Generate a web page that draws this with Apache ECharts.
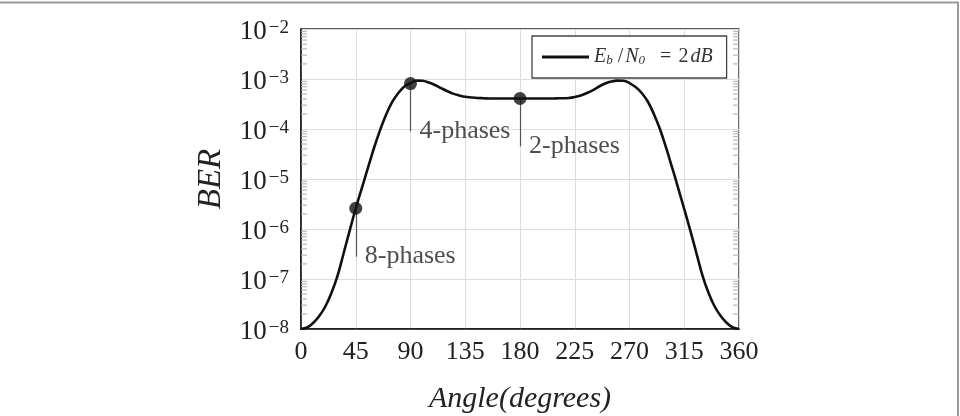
<!DOCTYPE html>
<html><head><meta charset="utf-8">
<script src="https://cdn.jsdelivr.net/npm/echarts@6/dist/echarts.min.js"></script>
<style>html,body{margin:0;padding:0;background:#fff}#c{width:960px;height:416px}</style>
</head><body><div id="c"></div>
<script>
// ---- data ----
const angles = [0,5,10,15,20,25,30,35,40,45,50,55,60,65,70,75,80,85,90,95,100,105,110,115,120,125,130,135,140,145,150,155,160,165,170,175,180,185,190,195,200,205,210,215,220,225,230,235,240,245,250,255,260,265,270,275,280,285,290,295,300,305,310,315,320,325,330,335,340,345,350,355,360];
const ber = [1.0e-8,1.07e-8,1.32e-8,1.82e-8,2.82e-8,5.25e-8,1.15e-7,3.24e-7,9.3e-7,2.57e-6,6.6e-6,1.66e-5,4.17e-5,9.5e-5,1.95e-4,3.47e-4,5.25e-4,7.08e-4,8.3e-4,9.3e-4,9.2e-4,8.5e-4,7.6e-4,6.6e-4,5.75e-4,5.1e-4,4.7e-4,4.4e-4,4.27e-4,4.17e-4,4.12e-4,4.07e-4,4.07e-4,4.07e-4,4.07e-4,4.07e-4,4.07e-4,4.07e-4,4.07e-4,4.07e-4,4.07e-4,4.07e-4,4.1e-4,4.12e-4,4.17e-4,4.37e-4,4.7e-4,5.25e-4,6.0e-4,7.08e-4,8.1e-4,8.9e-4,9.3e-4,9.2e-4,8.3e-4,6.9e-4,5.25e-4,3.55e-4,2.0e-4,1.0e-4,4.27e-5,1.7e-5,6.6e-6,2.5e-6,9.3e-7,3.3e-7,1.17e-7,5.25e-8,2.82e-8,1.82e-8,1.32e-8,1.07e-8,1.0e-8];
const markAngles = [45, 90, 180];
const markBer = [2.6e-6, 8.1e-4, 4.07e-4];
const markEndBer = [2.8e-7, 8.9e-5, 4.5e-5];
const markLabels = ['8-phases', '4-phases', '2-phases'];
const minorMantissas = [2,3,4,5,6,7,8,9];
const decadeExponents = [-8,-7,-6,-5,-4,-3];
const seriesName = 'Eb/N0 = 2dB';

// ---- chart ----
const serif = 'Liberation Serif';
const minorTickVals = [];
decadeExponents.forEach(e => minorMantissas.forEach(m => minorTickVals.push([0, m * Math.pow(10, e)])));

const chart = echarts.init(document.getElementById('c'), null, {renderer: 'canvas'});
chart.setOption({
  animation: false,
  backgroundColor: '#fff',
  graphic: [{
    type: 'rect', silent: true, z: -10,
    shape: {x: -5, y: 2.5, width: 963, height: 430},
    style: {fill: 'none', stroke: '#9a9a9a', lineWidth: 2}
  }],
  grid: {left: 301, right: 221, top: 29, bottom: 87, show: true, borderColor: '#222', borderWidth: 1.3,
    backgroundColor: 'transparent', containLabel: false, outerBoundsMode: 'none'},
  legend: {
    data: [{name: seriesName, icon: 'rect'}],
    left: 532, top: 36,
    padding: [11, 14, 11, 10],
    itemWidth: 47, itemHeight: 3, itemGap: 6,
    itemStyle: {color: '#111', borderWidth: 0},
    borderColor: '#444', borderWidth: 1.3, backgroundColor: '#fff',
    formatter: () => '{i|E}{sb|b}{sl|/}{i|N}{sb|0}{eq|=}{n|2}{i|dB}',
    textStyle: {
      fontFamily: serif, fontSize: 20, color: '#333',
      rich: {
        i: {fontFamily: serif, fontStyle: 'italic', fontSize: 20, color: '#333', lineHeight: 20},
        n: {fontFamily: serif, fontSize: 20, color: '#333', lineHeight: 20, padding: [0, 2, 0, 0]},
        sl: {fontFamily: serif, fontSize: 20, color: '#333', lineHeight: 20, padding: [0, 2, 0, 5]},
        eq: {fontFamily: serif, fontSize: 20, color: '#333', lineHeight: 20, padding: [0, 7, 0, 15]},
        sb: {fontFamily: serif, fontStyle: 'italic', fontSize: 13, color: '#333', verticalAlign: 'bottom', lineHeight: 14}
      }
    }
  },
  xAxis: {
    type: 'value', min: 0, max: 360, interval: 45,
    name: 'Angle(degrees)', nameLocation: 'middle', nameGap: 55,
    nameTextStyle: {fontFamily: serif, fontStyle: 'italic', fontSize: 30, color: '#222'},
    axisLine: {show: true, lineStyle: {color: '#111', width: 1.5}},
    axisTick: {show: false},
    axisLabel: {fontFamily: serif, fontSize: 26, color: '#222', margin: 10},
    splitLine: {show: true, lineStyle: {color: '#dcdcdc', width: 1}}
  },
  yAxis: {
    type: 'log', logBase: 10, min: 1e-8, max: 1e-2, interval: 1,
    name: 'BER', nameLocation: 'middle', nameGap: 73, nameRotate: 90,
    nameTextStyle: {fontFamily: serif, fontStyle: 'italic', fontSize: 33, color: '#222'},
    axisLine: {show: true, lineStyle: {color: '#111', width: 1.5}},
    axisTick: {show: false},
    axisLabel: {
      margin: 12,
      formatter: v => '{b|10}{s|\u2212' + Math.abs(Math.round(Math.log10(v))) + '}',
      rich: {
        b: {fontFamily: serif, fontSize: 27, color: '#222', lineHeight: 26, padding: [6, 0, 0, 0]},
        s: {fontFamily: serif, fontSize: 19, color: '#222', lineHeight: 18, verticalAlign: 'top', padding: [3, 0, 0, 2]}
      }
    },
    splitLine: {show: true, lineStyle: {color: '#dcdcdc', width: 1}}
  },
  series: [
    {
      name: seriesName, type: 'line', smooth: 0.4, symbol: 'none',
      lineStyle: {color: '#111', width: 2.6}, itemStyle: {color: '#111'},
      data: angles.map((a, i) => [a, ber[i]]), z: 3
    },
    {
      name: 'minor', type: 'custom', silent: true, z: 1,
      data: minorTickVals,
      renderItem: (params, api) => {
        const l = api.coord([0, api.value(1)]);
        const r = api.coord([360, api.value(1)]);
        const st = {stroke: '#aaa', lineWidth: 1};
        return {type: 'group', children: [
          {type: 'line', shape: {x1: l[0], y1: l[1], x2: l[0] + 6, y2: l[1]}, style: st},
          {type: 'line', shape: {x1: r[0] - 6, y1: r[1], x2: r[0], y2: r[1]}, style: st}
        ]};
      }
    },
    {
      name: 'marks', type: 'scatter', symbol: 'circle', symbolSize: 13, z: 5,
      itemStyle: {color: '#111'},
      data: markAngles.map((a, i) => [a, markBer[i]]),
      markLine: {
        silent: true, symbol: 'none', animation: false,
        lineStyle: {color: '#555', width: 1.2, type: 'solid'},
        label: {show: false},
        data: markAngles.map((a, i) => [{coord: [a, markBer[i]]}, {coord: [a, markEndBer[i]]}])
      }
    },
    {
      name: 'labels', type: 'scatter', symbolSize: 0, z: 6, silent: true,
      data: markAngles.map((a, i) => [a, markEndBer[i], markLabels[i]]),
      label: {show: true, position: 'right', distance: 9, formatter: p => p.value[2],
        fontFamily: serif, fontSize: 26, color: '#222'}
    }
  ]
});
</script></body></html>
